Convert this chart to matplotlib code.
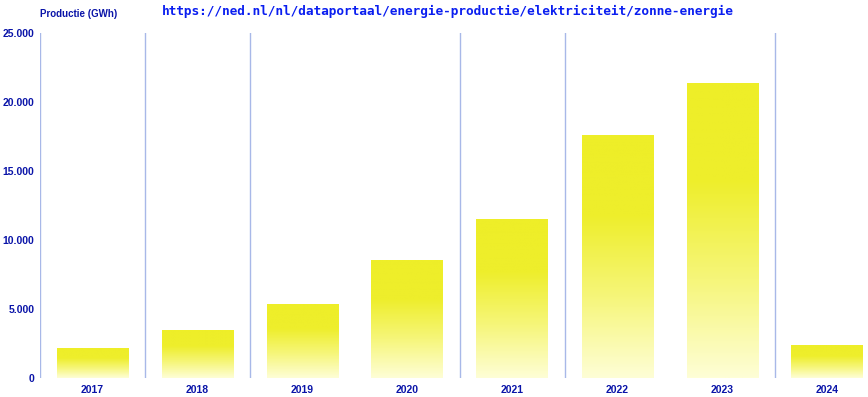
import numpy as np
import matplotlib
matplotlib.use("Agg")
import matplotlib.pyplot as plt
from matplotlib.colors import LinearSegmentedColormap

years = ["2017", "2018", "2019", "2020", "2021", "2022", "2023", "2024"]
production = [2120, 3410, 5360, 8550, 11450, 17540, 21350, 2320]
yticks = [0, 5000, 10000, 15000, 20000, 25000]
separators = [-0.5, 0.5, 1.5, 3.5, 4.5, 6.5]

W, H = 868, 397
fig = plt.figure(figsize=(W / 100, H / 100), dpi=100)
left, bottom, top = 40, 378, 33
ax = fig.add_axes([left / W, (H - bottom) / H, 1 - left / W, (bottom - top) / H])

label_col = "#0a14a8"
line_col = "#a8b8e8"

# gradient fill: bright yellow at the top, pale at the bottom
cmap = LinearSegmentedColormap.from_list("sun", ["#fefed6", "#f6f67a", "#eeee2c", "#eeee28"])
grad = np.linspace(0, 1, 256).reshape(-1, 1)
bw = 72 / 105
for i, v in enumerate(production):
    ax.imshow(grad, cmap=cmap, aspect="auto", origin="lower",
              extent=[i - bw / 2, i + bw / 2, 0, v], zorder=2)

for s in separators:
    ax.axvline(s, color=line_col, lw=1, zorder=1)

ax.set_xlim(-0.5, 7.5 - 12 / 105)
ax.set_ylim(0, 25000)
ax.set_xticks(range(len(years)))
ax.set_xticklabels(years)
ax.set_yticks(yticks)
ax.set_yticklabels([f"{t:,}".replace(",", ".") for t in yticks])
for sp in ax.spines.values():
    sp.set_visible(False)
ax.tick_params(length=0, colors=label_col, labelsize=7.5)
ax.tick_params(axis="y", pad=4)
ax.tick_params(axis="x", pad=5)
for lab in ax.get_xticklabels() + ax.get_yticklabels():
    lab.set_fontweight("bold")
    lab.set_family("Liberation Sans")

fig.text(40 / W, 1 - 14 / H, "Productie (GWh)", color=label_col, fontsize=7,
         family="Liberation Sans", fontweight="bold", ha="left", va="center")
fig.text(448 / W, 1 - 11 / H,
         "https://ned.nl/nl/dataportaal/energie-productie/elektriciteit/zonne-energie",
         color="#0a1ef0", fontsize=9.2, family="DejaVu Sans Mono", fontweight="bold",
         ha="center", va="center")

fig.savefig("out.png", dpi=100)
